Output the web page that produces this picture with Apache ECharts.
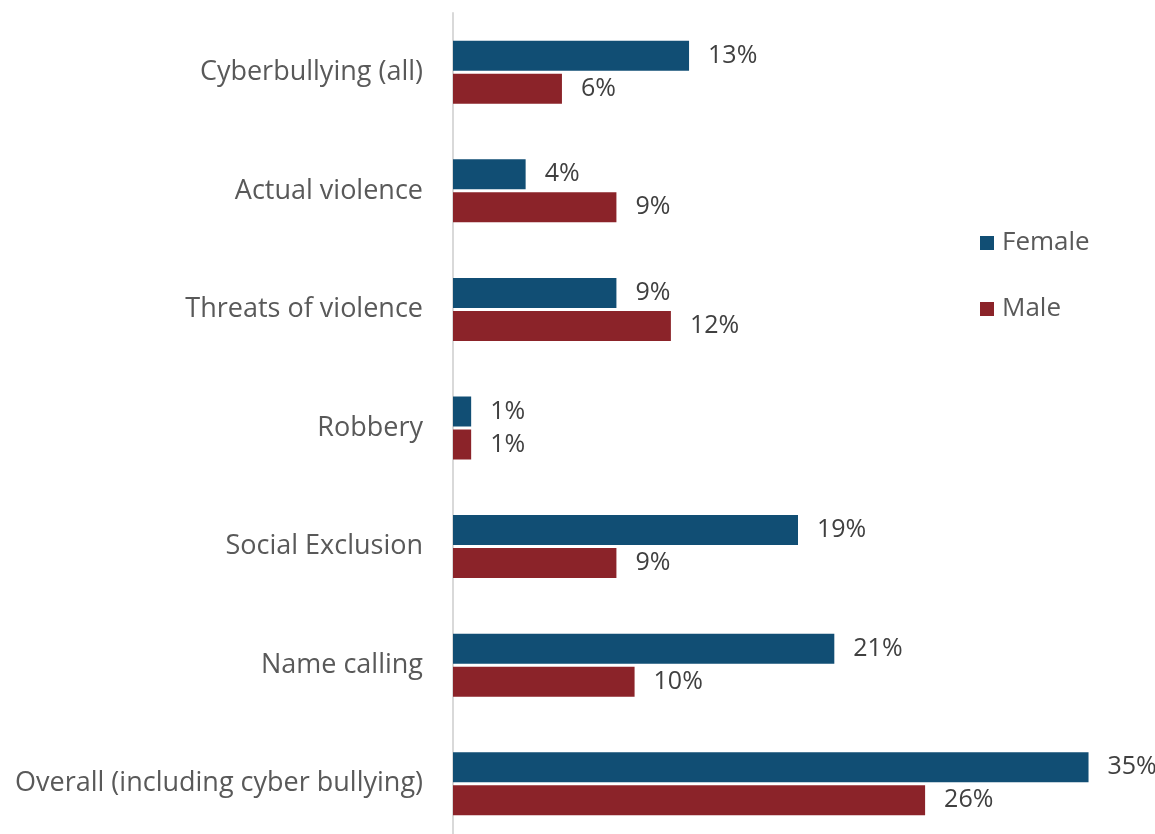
<!DOCTYPE html>
<html>
<head>
<meta charset="utf-8">
<style>
  html, body { margin: 0; padding: 0; background: #ffffff; }
  #chart { width: 1155px; height: 834px; }
</style>
<script src="https://cdn.jsdelivr.net/npm/echarts@6/dist/echarts.min.js"></script>
</head>
<body>
<div id="chart"></div>
<script>
// Bullying experience by type and gender (percent)
const categories = [
  'Cyberbullying (all)',
  'Actual violence',
  'Threats of violence',
  'Robbery',
  'Social Exclusion',
  'Name calling',
  'Overall (including cyber bullying)'
];
const female = [13, 4, 9, 1, 19, 21, 35];
const male = [6, 9, 12, 1, 9, 10, 26];

const FONT = '"Open Sans", sans-serif';
const chart = echarts.init(document.getElementById('chart'), null, { renderer: 'canvas' });

const valueLabel = {
  show: true,
  position: 'right',
  distance: 19,
  formatter: p => p.value + '%',
  color: '#404040',
  fontFamily: FONT,
  fontSize: 25
};

chart.setOption({
  animation: false,
  backgroundColor: '#ffffff',
  grid: {
    left: 453, top: 13, right: 12, bottom: -9,
    containLabel: false,
    outerBoundsMode: 'none'
  },
  legend: {
    orient: 'vertical',
    left: 975,
    top: 225,
    itemWidth: 14,
    itemHeight: 14,
    itemGap: 40,
    icon: 'rect',
    textStyle: { color: '#595959', fontFamily: FONT, fontSize: 26, padding: [0, 0, 0, 3] },
    data: ['Female', 'Male']
  },
  xAxis: {
    type: 'value',
    min: 0,
    max: 38,
    show: false
  },
  yAxis: {
    type: 'category',
    inverse: true,
    data: categories,
    axisLine: { show: true, lineStyle: { color: '#d9d9d9', width: 2 } },
    axisTick: { show: false },
    axisLabel: {
      color: '#595959',
      fontFamily: FONT,
      fontSize: 27,
      margin: 30
    }
  },
  series: [
    {
      name: 'Female',
      type: 'bar',
      data: female,
      barWidth: 30,
      barGap: '10%',
      itemStyle: { color: '#114e74' },
      label: valueLabel
    },
    {
      name: 'Male',
      type: 'bar',
      data: male,
      barWidth: 30,
      barGap: '10%',
      itemStyle: { color: '#8b2329' },
      label: valueLabel
    }
  ]
});
</script>
</body>
</html>
